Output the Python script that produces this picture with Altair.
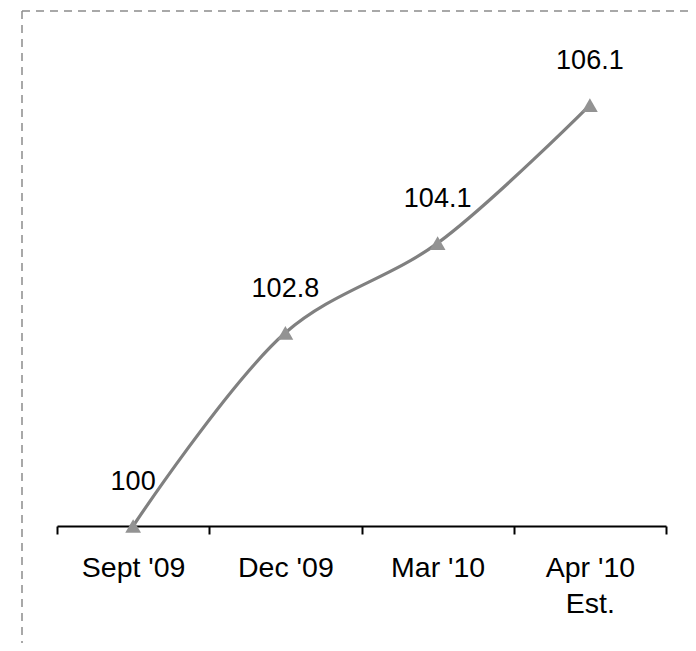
import altair as alt
import pandas as pd

categories = ["Sept '09", "Dec '09", "Mar '10", "Apr '10\nEst."]
values = [100.0, 102.8, 104.1, 106.1]
value_labels = ["100", "102.8", "104.1", "106.1"]

df = pd.DataFrame({"cat": categories, "val": values, "lab": value_labels})
frame = pd.DataFrame({"k": [0]})

LINE_GRAY = "#808080"
MARK_GRAY = "#939393"
BORDER_GRAY = "#8c8c8c"
FONT = "Liberation Sans"

xscale = alt.Scale(type="band", domain=categories, paddingInner=0, paddingOuter=0)
yscale = alt.Scale(domain=[100, 107], zero=False, nice=False)

x_axis = alt.Axis(
    title=None, labelAngle=0, labelFont=FONT, labelFontSize=28.5, labelColor="black",
    labelExpr="split(datum.label, '\\n')", labelLineHeight=36, labelPadding=19,
    domainColor="black", domainWidth=2, tickColor="black", tickWidth=2, tickSize=8,
    tickBand="extent", grid=False, labelFlush=False, labelOverlap=False,
)

base = alt.Chart(df)

line = base.mark_line(color=LINE_GRAY, strokeWidth=3.2, interpolate="catmull-rom").encode(
    x=alt.X("cat:N", scale=xscale, axis=x_axis, sort=categories, bandPosition=0.5),
    y=alt.Y("val:Q", scale=yscale, axis=None),
)

points = base.mark_point(shape="triangle-up", filled=True, color=MARK_GRAY, size=250, opacity=1).encode(
    x=alt.X("cat:N", scale=xscale, sort=categories, bandPosition=0.5),
    y=alt.Y("val:Q", scale=yscale),
)

labels = base.mark_text(font=FONT, fontSize=27, color="black", baseline="middle", dy=-44).encode(
    x=alt.X("cat:N", scale=xscale, sort=categories, bandPosition=0.5),
    y=alt.Y("val:Q", scale=yscale),
    text="lab:N",
)

top_border = alt.Chart(frame).mark_rule(color=BORDER_GRAY, strokeWidth=1.5, strokeDash=[8, 6]).encode(
    x=alt.value(-35), x2=alt.value(700), y=alt.value(-32)
)
left_border = alt.Chart(frame).mark_rule(color=BORDER_GRAY, strokeWidth=1.5, strokeDash=[8, 6]).encode(
    x=alt.value(-35), y=alt.value(-32), y2=alt.value(700)
)

chart = alt.layer(top_border, left_border, line, points, labels).properties(
    width=609, height=483,
    padding={"left": 49, "top": 35, "right": 22, "bottom": 117},
    autosize=alt.AutoSizeParams(type="none"),
).configure_view(stroke=None)

chart.save("out.html", embed_options={"renderer": "svg", "actions": False})
